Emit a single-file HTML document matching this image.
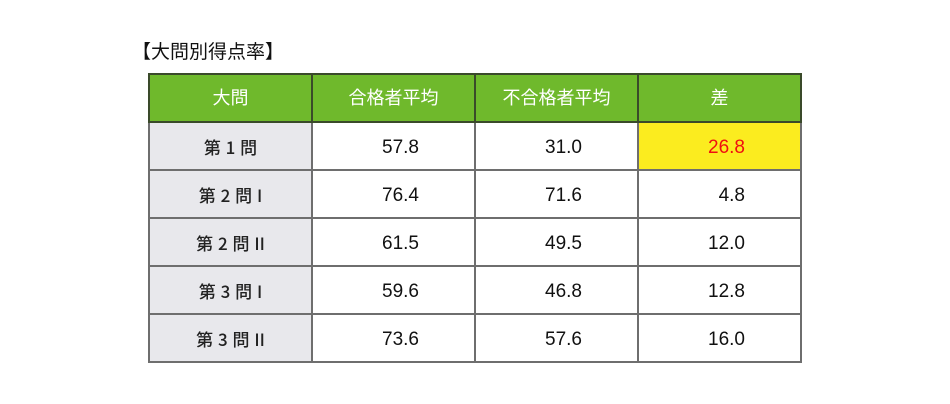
<!DOCTYPE html>
<html><head><meta charset="utf-8"><style>
body{margin:0;width:950px;height:404px;background:#fff;font-family:"Liberation Sans","Noto Sans CJK JP",sans-serif;position:relative;overflow:hidden}
.t{position:absolute;left:132px;top:37px;font-size:19px;color:#111}
table{position:absolute;left:148px;top:73px;border-collapse:collapse}
td{border:2px solid #6e6e6e;height:43px;padding:3px 0 0 0;font-size:19px;color:#111;vertical-align:middle;line-height:20px}
th{border:2px solid #3a4a2a;background:#6fb92c;color:#fff;font-weight:normal;font-size:18px;height:46px;padding:0;vertical-align:middle;line-height:20px}
td.l{background:#e8e8ec;text-align:center;width:161px;font-size:17px;font-family:"Noto Sans CJK JP",sans-serif;font-weight:500;color:#222;word-spacing:1px;padding-top:1px;height:45px}
td.n{text-align:right;padding-right:55px;width:106px}
td.y{background:#fbec1f;color:#f01010}
</style></head><body>
<div class="t">【大問別得点率】</div>
<table>
<tr><th style="width:161px">大問</th><th style="width:161px">合格者平均</th><th style="width:161px">不合格者平均</th><th style="width:161px">差</th></tr>
<tr><td class="l">第 1 問</td><td class="n">57.8</td><td class="n">31.0</td><td class="n y">26.8</td></tr>
<tr><td class="l">第 2 問 I</td><td class="n">76.4</td><td class="n">71.6</td><td class="n">4.8</td></tr>
<tr><td class="l">第 2 問 II</td><td class="n">61.5</td><td class="n">49.5</td><td class="n">12.0</td></tr>
<tr><td class="l">第 3 問 I</td><td class="n">59.6</td><td class="n">46.8</td><td class="n">12.8</td></tr>
<tr><td class="l">第 3 問 II</td><td class="n">73.6</td><td class="n">57.6</td><td class="n">16.0</td></tr>
</table>
</body></html>
